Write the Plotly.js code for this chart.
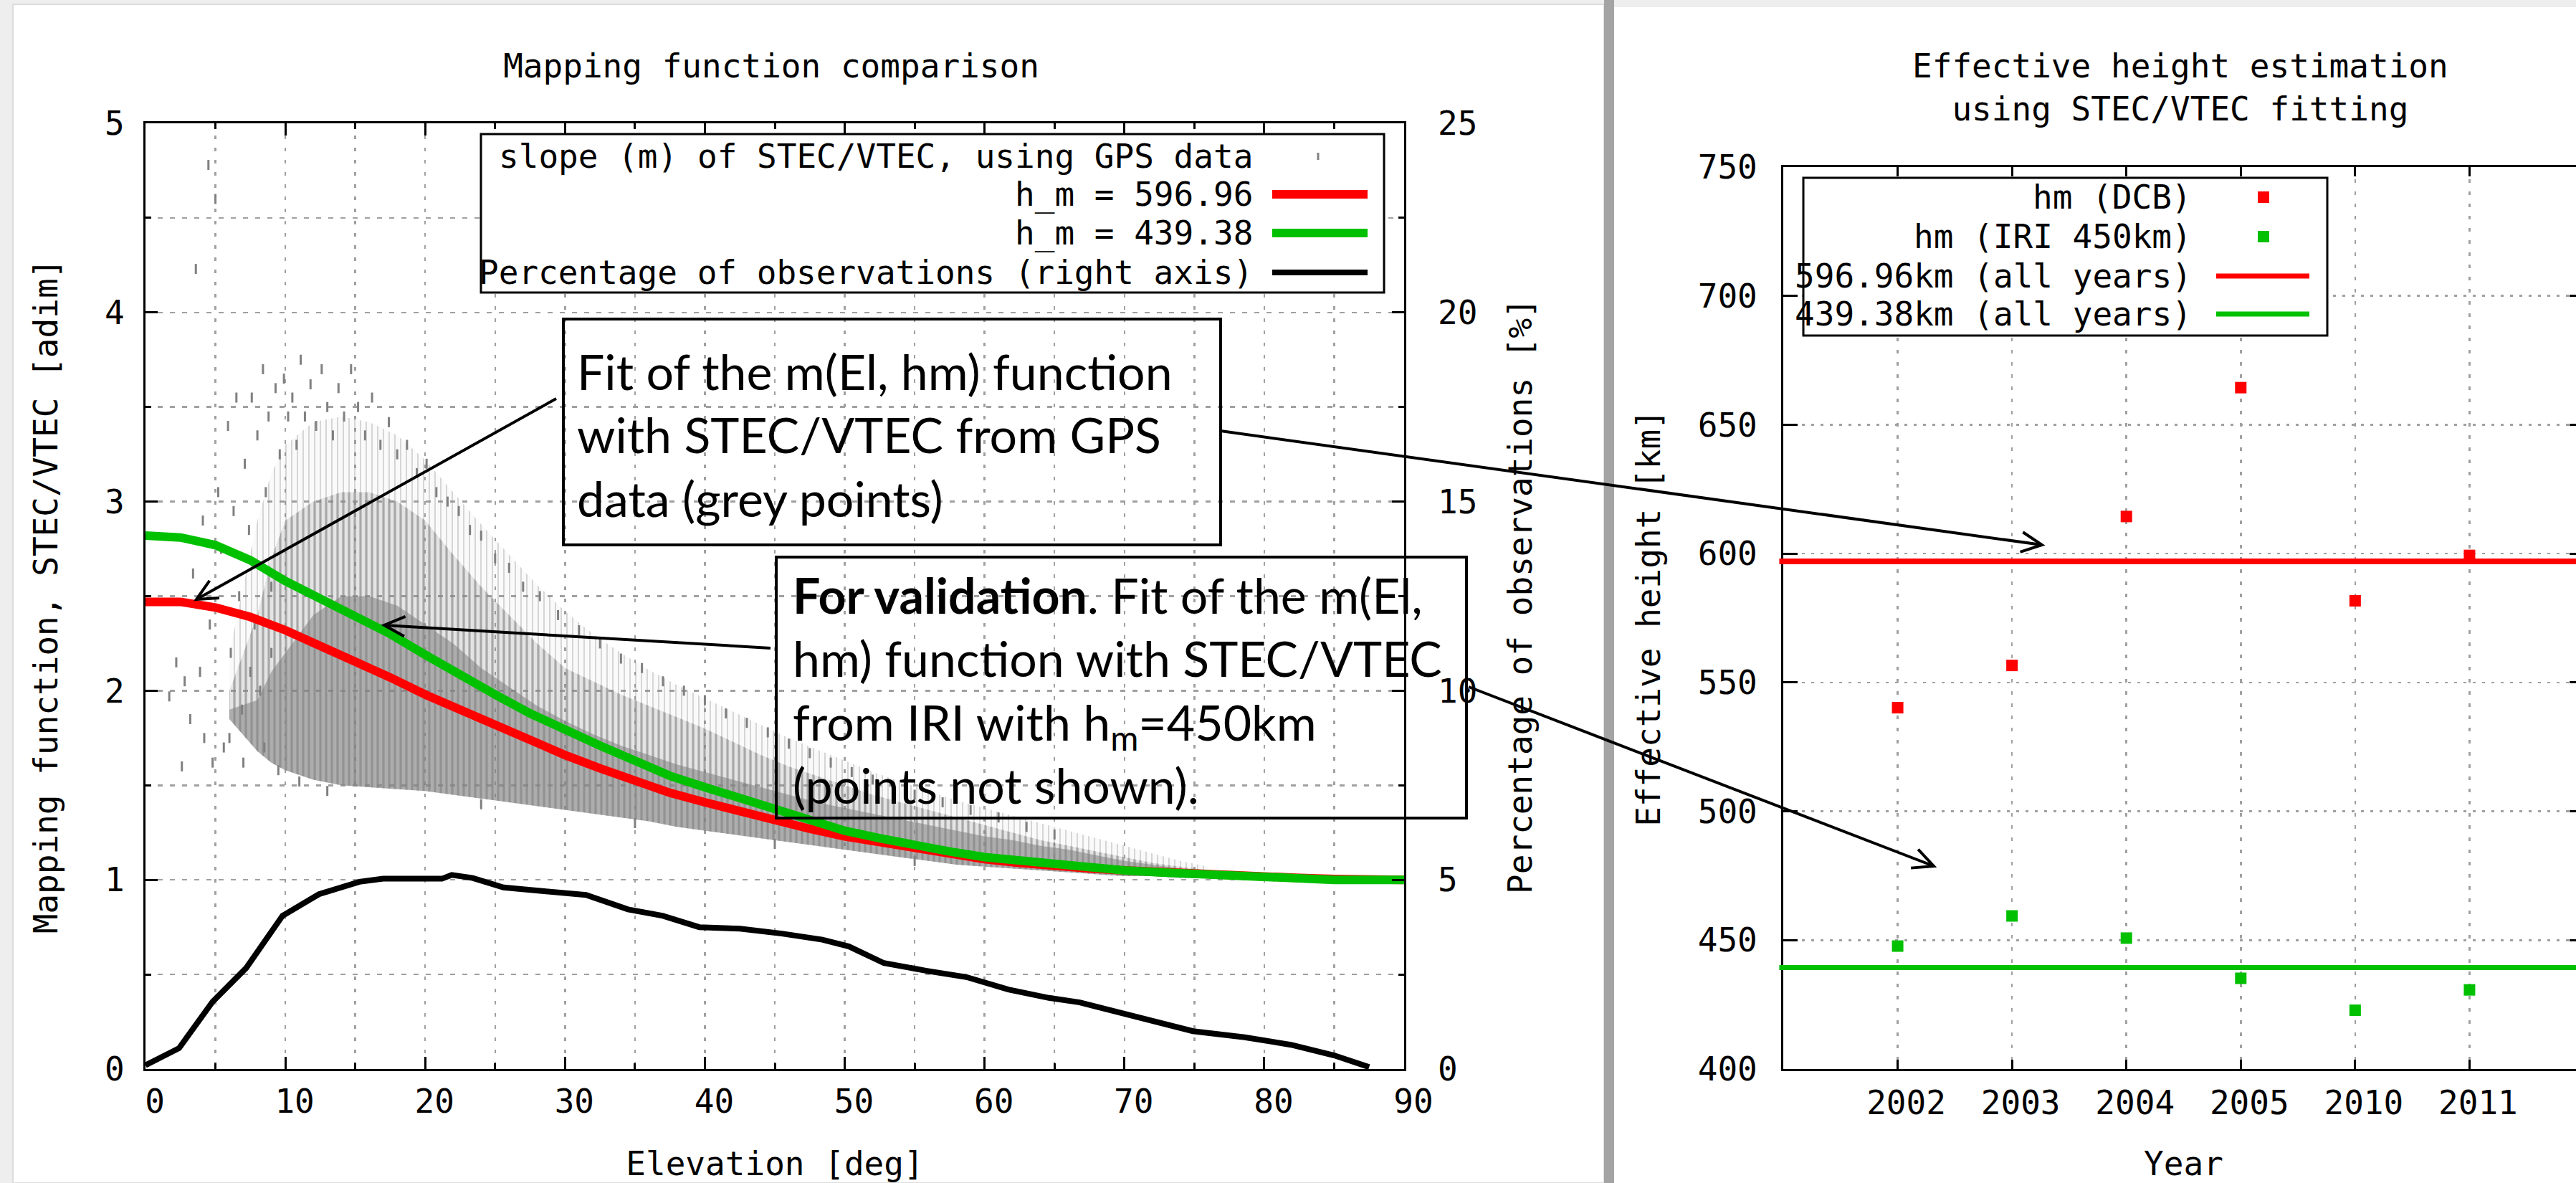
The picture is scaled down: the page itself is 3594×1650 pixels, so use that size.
<!DOCTYPE html>
<html>
<head>
<meta charset="utf-8">
<script src="https://cdn.plot.ly/plotly-3.0.1.min.js"></script>
<style>
html,body{margin:0;padding:0;overflow:hidden;width:3594px;height:1650px;background:#eeeeee}
#chart{width:3620px;height:1650px}
</style>
</head>
<body>
<div id="chart"></div>
<script>
// ---------------- Left chart: mapping function comparison ----------------
const elevCurve = [0,2.5,5,7.5,10,12.5,15,17.5,20,22.5,25,27.5,30,32.5,35,37.5,40,42.5,45,47.5,50,52.5,55,57.5,60,62.5,65,67.5,70,72.5,75,77.5,80,82.5,85,87.5,90];
const mfRed   = [2.47,2.47,2.44,2.39,2.32,2.24,2.16,2.07,1.98,1.90,1.81,1.73,1.66,1.59,1.52,1.46,1.41,1.36,1.31,1.27,1.23,1.20,1.16,1.14,1.11,1.09,1.07,1.06,1.05,1.04,1.03,1.02,1.015,1.01,1.005,1.0,1.0];
const mfGreen = [2.82,2.81,2.77,2.69,2.58,2.49,2.40,2.30,2.19,2.08,1.98,1.88,1.79,1.71,1.63,1.55,1.49,1.43,1.37,1.31,1.26,1.22,1.18,1.15,1.12,1.10,1.08,1.06,1.05,1.04,1.03,1.02,1.01,1.005,1.0,1.0,1.0];

const elevObs = [0,2.4,4.8,6.2,7.2,9.8,12.4,15.3,17,21.2,21.9,23.4,25.6,28.5,31.5,34.5,37,39.6,42.5,45.5,48.4,50.3,52.8,55.8,58.7,61.7,64.6,66.8,70.5,74.9,78.6,81.9,85,87.5];
const pctObs  = [0.10,0.55,1.78,2.3,2.67,4.05,4.62,4.95,5.03,5.03,5.13,5.05,4.80,4.70,4.60,4.22,4.05,3.75,3.71,3.58,3.42,3.24,2.80,2.60,2.43,2.10,1.88,1.76,1.40,1.00,0.84,0.64,0.36,0.05];

// envelope of the grey STEC/VTEC slope cloud: lower edge, dense top, medium top, sparse top
const cloudElev = [6,8,9,10,12,14,16,18,20,22,24,26,28,30,32,34,36,38,40,42,44,46,48,50,52,54,56,58,60,62,64,66,68,70,72,74,76];
const cloudLow  = [1.85,1.68,1.62,1.58,1.53,1.5,1.49,1.48,1.47,1.45,1.43,1.41,1.39,1.37,1.35,1.33,1.31,1.28,1.26,1.24,1.22,1.20,1.18,1.16,1.14,1.12,1.10,1.08,1.07,1.06,1.05,1.04,1.03,1.02,1.02,1.01,1.01];
const cloudCore = [1.9,1.95,2.1,2.2,2.4,2.5,2.5,2.45,2.35,2.25,2.12,2.02,1.92,1.84,1.77,1.71,1.66,1.61,1.57,1.53,1.49,1.45,1.41,1.38,1.35,1.32,1.29,1.26,1.23,1.21,1.18,1.16,1.13,1.10,1.08,1.06,1.04];
const cloudTop  = [2.0,2.4,2.7,2.9,3.0,3.05,3.05,3.0,2.9,2.72,2.55,2.4,2.25,2.12,2.05,1.98,1.92,1.86,1.8,1.73,1.66,1.6,1.55,1.5,1.45,1.41,1.37,1.33,1.29,1.25,1.21,1.18,1.15,1.12,1.09,1.07,1.05];
const cloudHalo = [2.2,2.9,3.15,3.3,3.42,3.45,3.42,3.35,3.22,3.05,2.88,2.72,2.56,2.42,2.3,2.2,2.11,2.03,1.96,1.89,1.82,1.75,1.69,1.63,1.57,1.52,1.47,1.42,1.38,1.34,1.3,1.26,1.22,1.18,1.14,1.1,1.07];
// isolated grey points
const sparseElev  = [1.7,2.2,2.6,2.8,3.2,3.4,3.6,3.9,4.1,4.2,4.5,4.6,4.8,5.0,5.2,5.4,5.6,5.9,6.0,6.1,6.3,6.5,6.7,6.9,7.0,7.1,7.4,7.5,7.6,7.8,8.0,8.2,8.4,8.5,8.6,8.8,9.0,9.0,9.3,9.5,9.6,9.9,10.2,10.5,10.8,11.0,11.1,11.4,11.8,12.2,12.6,13.0,13.0,13.4,13.8,14.2,14.7,15.2,15.7,16.2,16.8,17.4,18.0,18.7,19.4,20.1,20.8,21.6,22.4,23.2,24.0,24.0,25.0,26.0,27.0,28.2,29.5,31.0,32.5,34.0,35.0,35.5,37.0,38.5,40.0,41.5,43.0,44.5,45.0,46.0,47.5,49.0,50.5,52.0,53.5,55.0,55.0,57.0,59.0,61.0,63.0,65.0];
const sparseSlope = [1.97,2.15,1.60,2.05,1.85,2.62,4.23,2.10,2.90,1.75,4.78,2.35,1.62,4.60,3.05,2.75,1.70,3.40,1.75,2.20,2.95,3.55,2.50,1.90,1.62,3.20,2.85,2.10,3.55,2.35,3.35,2.00,3.70,1.70,3.05,3.45,2.55,2.20,3.60,1.58,3.25,3.65,3.45,3.55,3.30,1.52,3.75,3.45,3.62,3.40,3.70,3.50,1.47,3.35,3.60,3.45,3.70,3.50,3.35,3.55,3.30,3.42,3.25,3.30,3.15,3.20,3.05,3.00,2.95,2.85,2.82,1.40,2.70,2.65,2.55,2.50,2.40,2.32,2.25,2.17,1.30,2.12,2.05,2.00,1.95,1.88,1.83,1.78,1.19,1.72,1.67,1.62,1.57,1.53,1.49,1.45,1.10,1.41,1.37,1.33,1.28,1.24];

// ---------------- Right chart: effective height estimation ----------------
const years = ['2002','2003','2004','2005','2010','2011'];
const hmDCB = [540.2,556.6,614.4,664.4,581.7,599.3];
const hmIRI = [447.7,459.4,450.8,435.2,422.8,430.7];
const hmAllDCB = 596.96;
const hmAllIRI = 439.38;

// ---------------- page geometry helpers ----------------
const W = 3620, H = 1650;
const px = X => X / W;
const py = Y => 1 - Y / H;
const MONO = "'DejaVu Sans Mono','Liberation Mono',monospace";
const SLIDE = "Lato,'Open Sans',sans-serif";
const monoFont = {family: MONO, size: 46, color: '#000'};
const GRID = '#a0a0a0';
const RED = '#ff0000', GREEN = '#00c000', GREY = '#808080';
const rev = a => a.slice().reverse();
const band = (top, fill, pattern) => Object.assign({x: cloudElev.concat(rev(cloudElev)), y: cloudLow.concat(rev(top)), xaxis:'x', yaxis:'y',
   mode:'lines', fill:'toself', fillcolor:fill, line:{width:0}, hoverinfo:'skip'}, pattern ? {fillpattern:pattern} : {});

const traces = [
  band(cloudHalo, 'rgba(128,128,128,0.04)', {shape:'|', fgcolor:'#8a8a8a', size:8, solidity:0.16, fillmode:'overlay'}),
  band(cloudTop, 'rgba(128,128,128,0.18)', {shape:'|', fgcolor:'#8a8a8a', size:8, solidity:0.45, fillmode:'overlay'}),
  band(cloudCore, 'rgba(128,128,128,0.55)', null),
  {x: sparseElev, y: sparseSlope, xaxis:'x', yaxis:'y', mode:'markers',
   marker:{symbol:'line-ns', size:10, color:GREY, line:{width:3, color:GREY}}},
  {x: elevCurve, y: mfRed, xaxis:'x', yaxis:'y', mode:'lines', line:{color:RED, width:12}},
  {x: elevCurve, y: mfGreen, xaxis:'x', yaxis:'y', mode:'lines', line:{color:GREEN, width:12}},
  {x: elevObs, y: pctObs, xaxis:'x', yaxis:'y2', mode:'lines', line:{color:'#000', width:8}},
  {x: years, y: hmDCB, xaxis:'x2', yaxis:'y3', mode:'markers', marker:{symbol:'square', size:16, color:RED}},
  {x: years, y: hmIRI, xaxis:'x2', yaxis:'y3', mode:'markers', marker:{symbol:'square', size:16, color:GREEN}}
];

const axCommon = {
  ticks:'inside', tickwidth:3, tickcolor:'#000', showline:true, linewidth:3, linecolor:'#000',
  mirror:'ticks', zeroline:false, tickfont:monoFont, automargin:false, fixedrange:true,
  gridcolor:GRID, gridwidth:2.5
};

const layout = {
  width: W, height: H, margin:{l:0,r:0,t:0,b:0,pad:0},
  paper_bgcolor:'#eeeeee', plot_bgcolor:'rgba(0,0,0,0)', showlegend:false, hovermode:false,
  title:{text:'Mapping function comparison', font:monoFont, x:px(1076), y:py(92), xref:'paper', yref:'paper', xanchor:'center', yanchor:'middle'},
  xaxis: Object.assign({}, axCommon, {
    domain:[px(203), px(1959)], range:[0,90], anchor:'y', tickmode:'linear', tick0:0, dtick:10, ticklen:17,
    showgrid:true, griddash:'5px,12px', ticklabelshift:13, ticklabelstandoff:3,
    minor:{dtick:5, ticks:'inside', ticklen:8, tickwidth:3, tickcolor:'#000', showgrid:true, gridcolor:GRID, gridwidth:2.5, griddash:'5px,12px'},
    title:{text:'Elevation [deg]', font:monoFont, standoff:50}
  }),
  yaxis: Object.assign({}, axCommon, {
    domain:[py(1491), py(172)], range:[0,5], anchor:'x', tickmode:'linear', tick0:0, dtick:1, ticklen:17,
    showgrid:true, griddash:'7px,10px', ticklabelstandoff:17,
    minor:{dtick:0.5, ticks:'inside', ticklen:8, tickwidth:3, tickcolor:'#000', showgrid:true, gridcolor:GRID, gridwidth:2.5, griddash:'7px,10px'},
    title:{text:'Mapping function, STEC/VTEC [adim]', font:monoFont, standoff:51}
  }),
  yaxis2: {
    overlaying:'y', side:'right', anchor:'x', range:[0,25], tickmode:'linear', tick0:0, dtick:5,
    ticks:'', showline:false, showgrid:false, zeroline:false, tickfont:monoFont, automargin:false, fixedrange:true,
    ticklabelstandoff:46,
    title:{text:'Percentage of observations [%]', font:monoFont, standoff:44}
  },
  xaxis2: Object.assign({}, axCommon, {
    domain:[px(2488), px(3605)], anchor:'y3', type:'category', categoryorder:'array', categoryarray:years,
    tickmode:'array', tickvals:years, ticktext:years,
    range:[-1,6], ticklen:13, showgrid:true, griddash:'5px,12px', ticklabelshift:12, ticklabelstandoff:5,
    title:{text:'Year', font:monoFont, standoff:46}
  }),
  yaxis3: Object.assign({}, axCommon, {
    domain:[py(1491), py(233)], anchor:'x2', range:[400,750], tickmode:'linear', tick0:400, dtick:50, ticklen:20,
    showgrid:true, griddash:'4px,9px', ticklabelstandoff:24,
    title:{text:'Effective height [km]', font:monoFont, standoff:38}
  }),
  shapes: [],
  annotations: []
};

const S = layout.shapes, A = layout.annotations;
// slide backgrounds
S.push({type:'rect', xref:'paper', yref:'paper', x0:px(18), x1:px(2238), y0:py(1650), y1:py(6), fillcolor:'#ffffff', line:{color:'#dcdcdc', width:2}, layer:'below'});
S.push({type:'rect', xref:'paper', yref:'paper', x0:px(2252), x1:px(3620), y0:py(1650), y1:py(10), fillcolor:'#ffffff', line:{width:0}, layer:'below'});
S.push({type:'rect', xref:'paper', yref:'paper', x0:px(2238), x1:px(2252), y0:0, y1:1, fillcolor:'#a4a4a4', line:{width:0}, layer:'below'});

// fitted heights (all years) on right chart
S.push({type:'line', xref:'x2 domain', yref:'y3', x0:-0.005, x1:1, y0:hmAllDCB, y1:hmAllDCB, line:{color:RED, width:8}, layer:'above'});
S.push({type:'line', xref:'x2 domain', yref:'y3', x0:-0.005, x1:1, y0:hmAllIRI, y1:hmAllIRI, line:{color:GREEN, width:7}, layer:'above'});

// left legend
S.push({type:'rect', xref:'paper', yref:'paper', x0:px(671), x1:px(1931), y0:py(408), y1:py(187), fillcolor:'#ffffff', line:{color:'#000', width:3}, layer:'above'});
S.push({type:'line', xref:'paper', yref:'paper', x0:px(1839), x1:px(1839), y0:py(223), y1:py(213), line:{color:GREY, width:3}, layer:'above'});
S.push({type:'line', xref:'paper', yref:'paper', x0:px(1775), x1:px(1908), y0:py(271), y1:py(271), line:{color:RED, width:12}, layer:'above'});
S.push({type:'line', xref:'paper', yref:'paper', x0:px(1775), x1:px(1908), y0:py(325), y1:py(325), line:{color:GREEN, width:12}, layer:'above'});
S.push({type:'line', xref:'paper', yref:'paper', x0:px(1775), x1:px(1908), y0:py(380), y1:py(380), line:{color:'#000', width:8}, layer:'above'});
const leftLegend = ['slope (m) of STEC/VTEC, using GPS data','h_m = 596.96','h_m = 439.38','Percentage of observations (right axis)'];
const leftRows = [218,271,325,380];
leftLegend.forEach((t,i)=>A.push({xref:'paper', yref:'paper', x:px(1750), y:py(leftRows[i]), xanchor:'right', yanchor:'middle', text:t, showarrow:false, font:monoFont}));

// right legend
S.push({type:'rect', xref:'paper', yref:'paper', x0:px(2516), x1:px(3247), y0:py(468), y1:py(248), fillcolor:'#ffffff', line:{color:'#000', width:3}, layer:'above'});
S.push({type:'rect', xref:'paper', yref:'paper', x0:px(3150), x1:px(3166), y0:py(283), y1:py(267), fillcolor:RED, line:{width:0}, layer:'above'});
S.push({type:'rect', xref:'paper', yref:'paper', x0:px(3150), x1:px(3166), y0:py(338), y1:py(322), fillcolor:GREEN, line:{width:0}, layer:'above'});
S.push({type:'line', xref:'paper', yref:'paper', x0:px(3092), x1:px(3222), y0:py(385), y1:py(385), line:{color:RED, width:7}, layer:'above'});
S.push({type:'line', xref:'paper', yref:'paper', x0:px(3092), x1:px(3222), y0:py(438), y1:py(438), line:{color:GREEN, width:7}, layer:'above'});
const rightLegend = ['hm (DCB)','hm (IRI 450km)','596.96km (all years)','439.38km (all years)'];
const rightRows = [275,330,385,438];
rightLegend.forEach((t,i)=>A.push({xref:'paper', yref:'paper', x:px(3060), y:py(rightRows[i]), xanchor:'right', yanchor:'middle', text:t, showarrow:false, font:monoFont}));

// right chart title
A.push({xref:'paper', yref:'paper', x:px(3042), y:py(122), xanchor:'center', yanchor:'middle', showarrow:false,
  text:'Effective height estimation<br>using STEC/VTEC fitting', font:monoFont});

// call-out boxes
S.push({type:'rect', xref:'paper', yref:'paper', x0:px(786), x1:px(1703), y0:py(760), y1:py(445), fillcolor:'rgba(0,0,0,0)', line:{color:'#000', width:4}, layer:'above'});
S.push({type:'rect', xref:'paper', yref:'paper', x0:px(1083), x1:px(2046), y0:py(1141), y1:py(777), fillcolor:'rgba(0,0,0,0)', line:{color:'#000', width:4}, layer:'above'});
const slideFont = {family: SLIDE, size: 68, color:'#000'};
A.push({xref:'paper', yref:'paper', x:px(803), y:py(606), xanchor:'left', yanchor:'middle', align:'left', showarrow:false, font:slideFont,
  text:'Fit of the m(El, hm) function<br>with STEC/VTEC from GPS<br>data (grey points)'});
A.push({xref:'paper', yref:'paper', x:px(1104), y:py(962), xanchor:'left', yanchor:'middle', align:'left', showarrow:false, font:slideFont,
  text:'<b>For validation</b>. Fit of the m(El,<br>hm) function with STEC/VTEC<br>from IRI with h<sub>m</sub>=450km<br>(points not shown).'});

// call-out arrows drawn as shapes: [headX, headY, tailX, tailY] in page pixels
const arrows = [[274,836,776,556],[536,872,1075,904],[2849,760,1703,601],[2698,1208,2049,958]];
arrows.forEach(a=>{
  const [hx,hy,tx,ty] = a;
  const ang = Math.atan2(ty-hy, tx-hx), L = 32, sp = 0.45;
  const p1 = [hx + L*Math.cos(ang+sp), hy + L*Math.sin(ang+sp)];
  const p2 = [hx + L*Math.cos(ang-sp), hy + L*Math.sin(ang-sp)];
  S.push({type:'line', xref:'paper', yref:'paper', x0:px(tx), y0:py(ty), x1:px(hx), y1:py(hy), line:{color:'#000', width:4}, layer:'above'});
  S.push({type:'path', xref:'paper', yref:'paper', layer:'above', line:{color:'#000', width:4},
    path:`M${px(p1[0])},${py(p1[1])} L${px(hx)},${py(hy)} L${px(p2[0])},${py(p2[1])}`});
});

Plotly.newPlot('chart', traces, layout, {displayModeBar:false, staticPlot:true});
</script>
</body>
</html>
